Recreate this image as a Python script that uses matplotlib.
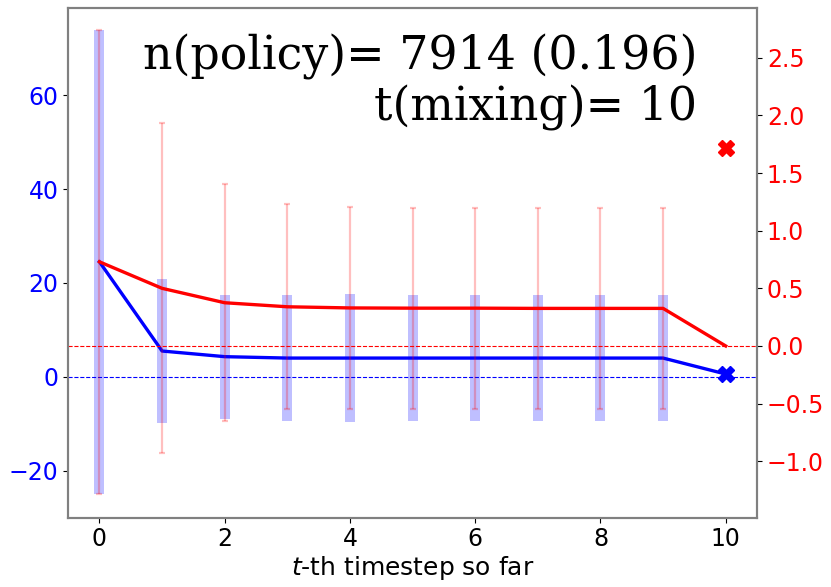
import matplotlib
matplotlib.use("Agg")
import matplotlib.pyplot as plt
import numpy as np

# data
steps = [0, 1, 2, 3, 4, 5, 6, 7, 8, 9, 10]
blue_mean = [24.5, 5.5, 4.3, 4.0, 4.0, 4.0, 4.0, 4.0, 4.0, 4.0, 0.6]
blue_std = [49.4, 15.4, 13.2, 13.5, 13.6, 13.5, 13.5, 13.5, 13.5, 13.5]
red_mean = [0.73, 0.50, 0.375, 0.34, 0.33, 0.328, 0.328, 0.326, 0.326, 0.326, 0.0]
red_std = [2.01, 1.43, 1.03, 0.89, 0.875, 0.873, 0.873, 0.873, 0.873, 0.873]
blue_final = 0.6
red_final = 1.72
n_policy = 7914
frac_policy = 0.196
t_mixing = 10

fig = plt.figure(figsize=(8.31, 5.87), dpi=100)
ax = fig.add_axes([0.082, 0.118, 0.829, 0.868])
ax2 = ax.twinx()

eb_steps = steps[:len(blue_std)]
ax.errorbar(eb_steps, blue_mean[:len(blue_std)], yerr=blue_std, fmt='none',
            ecolor='blue', alpha=0.25, elinewidth=7.2, capsize=0)
ax.plot(steps, blue_mean, color='blue', lw=2.4)
ax.plot([steps[-1]], [blue_final], marker='X', color='blue', ms=11, ls='none')
ax.axhline(0, color='blue', ls='--', lw=0.8)

ax2.errorbar(eb_steps, red_mean[:len(red_std)], yerr=red_std, fmt='none',
             ecolor='red', alpha=0.25, elinewidth=1.6, capsize=2.2, capthick=1.6)
ax2.plot(steps, red_mean, color='red', lw=2.4)
ax2.plot([steps[-1]], [red_final], marker='X', color='red', ms=11, ls='none')
ax2.axhline(0, color='red', ls='--', lw=0.8)

ax.set_xlim(-0.5, 10.5)
ax.set_ylim(-30, 78.5)
ax2.set_ylim(-1.49, 2.93)
ax.set_yticks([-20, 0, 20, 40, 60])
ax2.set_yticks([-1.0, -0.5, 0.0, 0.5, 1.0, 1.5, 2.0, 2.5])
ax.set_xticks([0, 2, 4, 6, 8, 10])

ax.tick_params(axis='y', labelcolor='blue', labelsize=17)
ax.tick_params(axis='x', labelsize=17)
ax2.tick_params(axis='y', labelcolor='red', labelsize=17)
ax.set_xlabel(r'$t$-th timestep so far', fontsize=18, labelpad=2)

for a in (ax, ax2):
    for s in a.spines.values():
        s.set_color('gray')
        s.set_linewidth(1.5)

ax2.text(0.913, 0.8807, f"n(policy)= {n_policy} ({frac_policy})",
         transform=ax.transAxes, ha='right', va='baseline',
         family='DejaVu Serif', fontsize=33, zorder=10)
ax2.text(0.913, 0.7806, f"t(mixing)= {t_mixing}",
         transform=ax.transAxes, ha='right', va='baseline',
         family='DejaVu Serif', fontsize=33, zorder=10)

fig.savefig('out.png', dpi=100)
